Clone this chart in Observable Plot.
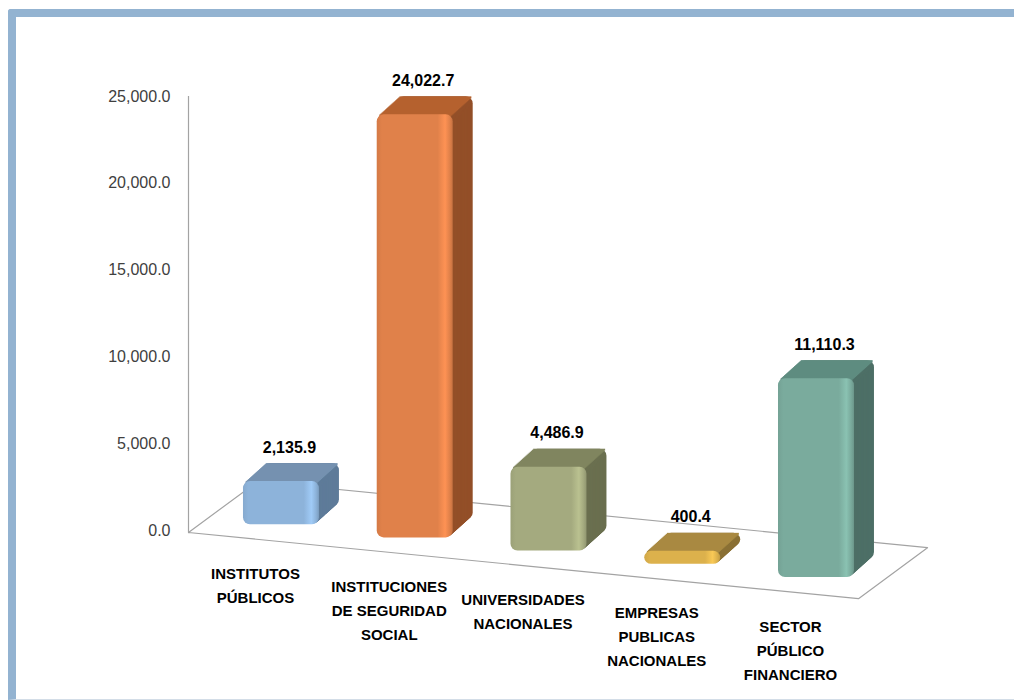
<!DOCTYPE html>
<html><head><meta charset="utf-8">
<script src="https://cdn.jsdelivr.net/npm/d3@7"></script>
<script src="https://cdn.jsdelivr.net/npm/@observablehq/plot@0.6"></script>
<style>
html,body{margin:0;padding:0;background:#fff;width:1014px;height:700px;overflow:hidden;}
#frame{position:absolute;left:8px;top:9px;right:-30px;bottom:0;border-left:8px solid #93b3d1;border-top:8px solid #93b3d1;border-bottom:1px solid #d3dde7;border-top-left-radius:3px;}
#chart{position:absolute;left:0;top:0;}
</style></head><body>
<div id="frame"></div>
<svg width="0" height="0" style="position:absolute"><defs id="grads"></defs></svg>
<div id="chart"></div>
<script>
// ---- data ----
const categories = [
  "INSTITUTOS\nPÚBLICOS",
  "INSTITUCIONES\nDE SEGURIDAD\nSOCIAL",
  "UNIVERSIDADES\nNACIONALES",
  "EMPRESAS\nPUBLICAS\nNACIONALES",
  "SECTOR\nPÚBLICO\nFINANCIERO"
];
const values = [2135.9, 24022.7, 4486.9, 400.4, 11110.3];
const yTicks = [0, 5000, 10000, 15000, 20000, 25000];

// ---- styles ----
const frontColors = ["#8db3da", "#e0814a", "#a4aa7f", "#dcb14c", "#7aab9d"];
const topColors   = ["#7592b0", "#b5622f", "#80865f", "#a98a42", "#5f8c80"];
const sideColors  = ["#5e7b99", "#934f28", "#6a6f4f", "#8a7034", "#4d6f66"];

// gradients for the front faces
const defs = d3.select("#grads");
frontColors.forEach((c, i) => {
  const g = defs.append("linearGradient").attr("id", "front" + i)
    .attr("x1", "0").attr("x2", "1").attr("y1", "0").attr("y2", "0");
  const stops = [
    [0, d3.color(c).darker(0.15)], [0.07, c], [0.8, c],
    [0.9, d3.color(c).brighter(0.35)], [0.96, c], [1, d3.color(c).darker(0.35)]
  ];
  stops.forEach(([o, col]) => g.append("stop").attr("offset", o).attr("stop-color", String(col)));
});

const rows = categories.map((c, i) => ({i, cat: c, value: values[i]}));

// ---- layout ----
const W = 1014, H = 700, mL = 188, mR = 87, mT = 96, mB = 170;
const X_DOMAIN = [-0.695, 4.83];
const Y_MAX = 25000;
const pxPerUnit = (H - mT - mB) / Y_MAX;
const yShift = px => -px / pxPerUnit;          // pixel drop -> data units
const FRONT0 = 11.2, SLOPE = 13.2;              // floor front edge perspective
const floorOff = x => FRONT0 + SLOPE * x;
const DEPTH_X = 0.516, DEPTH_PX = 51;           // floor depth
const BAR_LIFT = 23, LABEL_DROP = 20;
const HW = 0.284;                               // half bar width (index units)
const DX = 20, DY = -18, N = 18;                // bar depth

const base = d => yShift(floorOff(d.i) - BAR_LIFT);
const topY = d => d.value + base(d);
const x1 = d => d.i - HW, x2 = d => d.i + HW;

const xFR = X_DOMAIN[1] - DEPTH_X;
const floorPts = [
  {x: X_DOMAIN[0], y: yShift(floorOff(X_DOMAIN[0]))},
  {x: xFR, y: yShift(floorOff(xFR))},
  {x: X_DOMAIN[1], y: yShift(floorOff(xFR) - DEPTH_PX)},
  {x: X_DOMAIN[0] + DEPTH_X, y: yShift(floorOff(X_DOMAIN[0]) - DEPTH_PX)},
  {x: X_DOMAIN[0], y: yShift(floorOff(X_DOMAIN[0]))}
];

const marks = [];
marks.push(Plot.line(floorPts, {x: "x", y: "y", stroke: "#a3a3a3", strokeWidth: 1.2}));
marks.push(Plot.ruleX([X_DOMAIN[0]], {x: d => d, y1: yShift(floorOff(X_DOMAIN[0])), y2: Y_MAX, stroke: "#a3a3a3", strokeWidth: 1.2}));
// extrusion (side)
for (let k = N; k >= 1; k--) {
  marks.push(Plot.rect(rows, {x1, x2, y1: base, y2: topY, fill: d => sideColors[d.i],
    dx: DX * k / N, dy: DY * k / N, rx: 7, insetBottom: -6}));
}
// top face
for (let k = N; k >= 0; k--) {
  marks.push(Plot.rect(rows, {x1: d => d.i - HW + 0.02, x2: d => d.i + HW - 0.01, y1: topY, y2: topY,
    fill: d => topColors[d.i], dx: DX * k / N, dy: DY * k / N, insetBottom: -2}));
}
// front face
marks.push(Plot.rect(rows, {x1, x2, y1: base, y2: topY, fill: d => `url(#front${d.i})`, rx: 7, insetBottom: -6}));
// value labels
marks.push(Plot.text(rows, {x: "i", y: topY, text: d => d3.format(",.1f")(d.value), dy: -34, dx: 8,
  fontWeight: "bold", fontSize: 16, fill: "#000"}));
// category labels
marks.push(Plot.text(rows, {x: "i", y: d => yShift(floorOff(d.i) + LABEL_DROP), text: "cat", dx: -26,
  lineAnchor: "top", lineHeight: 1.6, fontWeight: "bold", fontSize: 15, fill: "#000"}));

const plot = Plot.plot({
  width: W, height: H, marginTop: mT, marginBottom: mB, marginLeft: mL, marginRight: mR,
  x: {domain: X_DOMAIN, axis: null},
  y: {domain: [0, Y_MAX], ticks: yTicks, tickFormat: d3.format(",.1f"), tickSize: 0, tickPadding: 18, label: null},
  color: {type: "identity"},
  style: {background: "transparent", fontFamily: "'Liberation Sans', Arial, sans-serif", fontSize: "16px", color: "#404040", overflow: "visible"},
  marks
});
document.getElementById("chart").appendChild(plot);
</script>
</body></html>
